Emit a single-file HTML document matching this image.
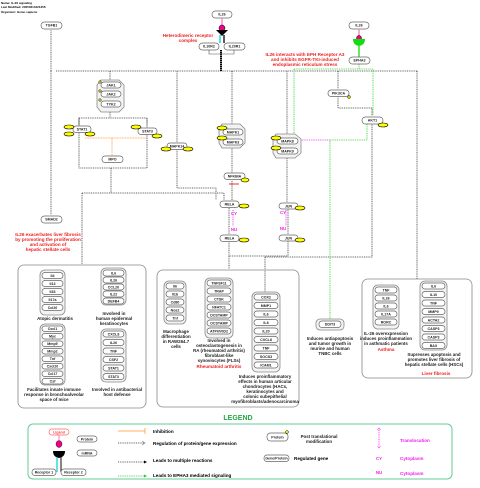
<!DOCTYPE html>
<html><head><meta charset="utf-8"><style>
body{margin:0;background:#fff}
svg{display:block;font-family:"Liberation Sans",sans-serif}
.n{fill:#fff;stroke:#666;stroke-width:.7}
.g{fill:#f3f3f3;stroke:#888;stroke-width:.8}
.t{font-size:3.6px;font-weight:bold;text-anchor:middle;fill:#222}
.d{fill:none;stroke:#333;stroke-width:.8;stroke-dasharray:1,.8}
.gr{fill:none;stroke:#2c2;stroke-width:.8;stroke-dasharray:1,.8}
.y{fill:#ff0;stroke:#000;stroke-width:.6}
.r{font-size:4.6px;font-weight:bold;fill:#e22;text-anchor:middle}
.k{font-size:4.4px;font-weight:bold;fill:#222;text-anchor:middle}
.m{font-size:4.4px;font-weight:bold;fill:#e2e;text-anchor:middle}
</style></head><body>
<svg width="480" height="488" viewBox="0 0 480 488" xmlns="http://www.w3.org/2000/svg">
<text x="1" y="4" style="font-size:3px;font-weight:bold">Name: IL-26 signaling</text>
<text x="1" y="8" style="font-size:3px;font-weight:bold">Last Modified: 20250213121356</text>
<text x="1" y="13" style="font-size:3px;font-weight:bold">Organism: Homo sapiens</text>

<!-- main dotted lines -->
<path class="d" d="M56 71H418 M51 71V30 M51 71V215 M110 71V80 M177 71V142 M232 71V124 M287 71V134 M338 71V89"/>
<path d="M221 50V71" stroke="#000" stroke-width="2" stroke-dasharray="1.5,.5"/>
<path class="d" d="M110 112V118 M79 118H147V168H79Z M79 118V125 M147 118V127 M111 168V193 M82 193H224V200 M82 193V264 M177 149V188H216V200 M232 147V173 M232 181V200 M229 208V234 M229 241V256H288 M288 208V234 M288 241V256 M265 257H372V124 M229 256V269 M265 257V292 M338 96V108H372V116 M417 71V279 M287 158V202"/>
<path d="M85 138H147 M112 138V156" stroke="#f93" stroke-width=".8" fill="none" stroke-dasharray="1,.6"/>
<path d="M229 184H239" stroke="#e33" stroke-width="1"/>
<path d="M107 156H117" stroke="#f93" stroke-width=".8"/>
<path class="gr" d="M359 64V69 M294 69H373V115 M294 69V136 M367 124V140H330V320"/>
<path d="M300 140H330" stroke="#e2e" stroke-width=".8" fill="none" stroke-dasharray="1,.8"/>
<path d="M233 210V226 M286 210V226" stroke="#e2e" stroke-width=".8" stroke-dasharray="1,.8"/>

<!-- receptor complex -->
<rect class="n" x="212" y="11" width="20" height="7" rx="3.5"/><text class="t" x="222" y="15.5">IL26</text>
<path d="M222 18V26" stroke="#f8c" stroke-width="1.5"/>
<circle cx="222" cy="28" r="3" fill="#e08" stroke="#000" stroke-width=".5"/>
<path d="M216 30H228L222 36Z" fill="#000"/>
<path d="M220 35V43" stroke="#0cd" stroke-width="1.3"/><path d="M224 35V43" stroke="#000" stroke-width="1.3"/>
<rect class="n" x="199" y="43" width="20" height="7" rx="3.5"/><text class="t" x="209" y="47.5">IL10R2</text>
<rect class="n" x="224" y="43" width="21" height="7" rx="3.5"/><text class="t" x="234.5" y="47.5">IL20R1</text>
<path d="M209 50V54H234V50" stroke="#555" stroke-width=".6" fill="none"/>
<text class="r" x="188" y="37">Heterodimeric receptor</text><text class="r" x="188" y="42">complex</text>

<rect class="n" x="349" y="22" width="20" height="7" rx="3.5"/><text class="t" x="359" y="26.5">IL26</text>
<path d="M359 29V36" stroke="#f8c" stroke-width="1.5"/>
<circle cx="359" cy="38" r="2.5" fill="#e08" stroke="#000" stroke-width=".5"/>
<path d="M353 39H365Q365 45 359 46Q353 45 353 39Z" fill="#1d1"/>
<path d="M359 46V57" stroke="#1d1" stroke-width="1.3"/>
<rect class="n" x="349" y="57" width="21" height="7" rx="3.5"/><text class="t" x="359.5" y="61.5">EPHA3</text>
<text class="r" x="305" y="56">IL26 interacts with EPH Receptor A3</text>
<text class="r" x="305" y="61">and inhibits EGFR-TKI-induced</text>
<text class="r" x="305" y="66">endoplasmic reticulum stress</text>

<rect class="n" x="41" y="22" width="21" height="7" rx="3.5"/><text class="t" x="51.5" y="26.5">TGFB1</text>
<rect class="n" x="41" y="216" width="21" height="7" rx="3.5"/><text class="t" x="51.5" y="220.5">SMAD2</text>
<text class="r" x="48" y="236">IL26 exacerbates liver fibrosis</text>
<text class="r" x="48" y="241">by promoting the proliferation</text>
<text class="r" x="48" y="246">and activation of</text>
<text class="r" x="48" y="251">hepatic stellate cells</text>

<!-- JAK -->
<path class="g" d="M101 80H119L124 85V107L119 112H101L97 107V85Z"/>
<rect class="n" x="101" y="82" width="20" height="6" rx="3"/><text class="t" x="111" y="86.3">JAK1</text>
<rect class="n" x="101" y="91" width="20" height="6" rx="3"/><text class="t" x="111" y="95.3">JAK2</text>
<rect class="n" x="101" y="101" width="20" height="6" rx="3"/><text class="t" x="111" y="105.3">TYK2</text>
<circle cx="100" cy="82" r="1.3" fill="#cc0" stroke="#000" stroke-width=".4"/><circle cx="100" cy="91" r="1.3" fill="#cc0" stroke="#000" stroke-width=".4"/><circle cx="100" cy="100" r="1.3" fill="#cc0" stroke="#000" stroke-width=".4"/>

<rect class="n" x="73" y="126" width="18" height="6.5" rx="3"/><text class="t" x="82" y="130.5">STAT1</text>
<ellipse class="y" cx="69" cy="127" rx="5" ry="2"/><ellipse class="y" cx="69" cy="134" rx="5" ry="2"/><ellipse class="y" cx="90" cy="134" rx="5" ry="2"/>
<rect class="n" x="138" y="128" width="19" height="6.5" rx="3"/><text class="t" x="147.5" y="132.5">STAT3</text>
<ellipse class="y" cx="136" cy="127" rx="5" ry="2"/><ellipse class="y" cx="157" cy="136" rx="5" ry="2"/>
<rect class="n" x="102" y="156" width="21" height="6.5" rx="3"/><text class="t" x="112.5" y="160.5">MPO</text>

<rect class="n" x="167" y="143" width="20" height="6.5" rx="3"/><text class="t" x="177" y="147.5">MAPK14</text>
<ellipse class="y" cx="166" cy="149" rx="5" ry="2"/><ellipse class="y" cx="188" cy="149" rx="5" ry="2"/>

<path class="g" d="M222 124H240L245 129V143L240 148H222L219 143V129Z"/>
<rect class="n" x="223" y="129" width="20" height="6" rx="3"/><text class="t" x="233" y="133.3">MAPK1</text>
<rect class="n" x="223" y="139" width="20" height="6" rx="3"/><text class="t" x="233" y="143.3">MAPK3</text>
<ellipse class="y" cx="222" cy="128" rx="5" ry="2"/><ellipse class="y" cx="222" cy="138" rx="5" ry="2"/>

<path class="g" d="M276 134H295L301 139V153L295 158H276L273 153V139Z"/>
<rect class="n" x="277" y="138" width="21" height="6" rx="3"/><text class="t" x="287.5" y="142.3">MAPK8</text>
<rect class="n" x="277" y="148" width="21" height="6" rx="3"/><text class="t" x="287.5" y="152.3">MAPK9</text>
<ellipse class="y" cx="276" cy="138" rx="5" ry="2"/><ellipse class="y" cx="276" cy="148" rx="5" ry="2"/>

<rect class="n" x="224" y="173" width="21" height="6.5" rx="3"/><text class="t" x="234.5" y="177.5">NFKBIA</text>
<ellipse class="y" cx="245" cy="180" rx="4" ry="2"/>

<rect class="n" x="220" y="201" width="19" height="6.5" rx="3"/><text class="t" x="229.5" y="205.5">RELA</text><ellipse class="y" cx="244" cy="206" rx="5" ry="2"/>
<text class="m" x="234" y="215">CY</text><text class="m" x="234" y="231">NU</text>
<rect class="n" x="220" y="235" width="19" height="6.5" rx="3"/><text class="t" x="229.5" y="239.5">RELA</text><ellipse class="y" cx="244" cy="240" rx="5" ry="2"/>
<rect class="n" x="279" y="203" width="19" height="6" rx="3"/><text class="t" x="288.5" y="207.3">JUN</text><ellipse class="y" cx="300" cy="208" rx="5" ry="2"/>
<text class="m" x="283" y="214">CY</text><text class="m" x="283" y="230">NU</text>
<rect class="n" x="279" y="235" width="19" height="6" rx="3"/><text class="t" x="288.5" y="239.3">JUN</text><ellipse class="y" cx="300" cy="240" rx="5" ry="2"/>

<rect class="n" x="328" y="90" width="21" height="6.5" rx="3"/><text class="t" x="338.5" y="94.5">PIK3CA</text>
<circle cx="349" cy="97" r="1.5" fill="#cc0" stroke="#000" stroke-width=".4"/>
<rect class="n" x="362" y="117" width="21" height="7" rx="3.5"/><text class="t" x="372.5" y="121.5">AKT1</text><ellipse class="y" cx="383" cy="125" rx="5" ry="2"/>

<rect class="g" x="316" y="319" width="28" height="11" rx="4"/>
<rect class="n" x="319" y="321" width="22" height="6.5" rx="3"/><text class="t" x="330" y="325.5">DDIT3</text>
<text class="k" x="330" y="340">Induces antiapoptosis</text><text class="k" x="330" y="345">and tumor growth in</text><text class="k" x="330" y="350">murine and human</text><text class="k" x="330" y="355">TNBC cells</text>

<!-- boxes -->
<rect x="18" y="265" width="128" height="143" rx="6" fill="none" stroke="#888" stroke-width=".8"/>
<rect x="157" y="270" width="142" height="137" rx="6" fill="none" stroke="#888" stroke-width=".8"/>
<rect x="362" y="279" width="110" height="99" rx="6" fill="none" stroke="#888" stroke-width=".8"/>

<g id="grp">
<rect class="g" x="40" y="270" width="25" height="45" rx="5"/>
<rect class="g" x="101" y="268" width="25" height="37" rx="5"/>
<rect class="g" x="40" y="324" width="25" height="61" rx="5"/>
<rect class="g" x="101" y="329" width="25" height="53" rx="5"/>
<rect class="g" x="164" y="281" width="22" height="43" rx="5"/>
<rect class="g" x="205" y="278" width="28" height="60" rx="5"/>
<rect class="g" x="252" y="292" width="28" height="80" rx="5"/>
<rect class="g" x="373" y="285" width="26" height="44" rx="5"/>
<rect class="g" x="420" y="281" width="27" height="69" rx="5"/>
</g>
<g>
<rect class="n" x="42" y="272.5" width="21" height="6" rx="3"/><text class="t" x="52.5" y="276.8">Il4</text>
<rect class="n" x="42" y="280.5" width="21" height="6" rx="3"/><text class="t" x="52.5" y="284.8">Il13</text>
<rect class="n" x="42" y="288.5" width="21" height="6" rx="3"/><text class="t" x="52.5" y="292.8">Il33</text>
<rect class="n" x="42" y="296.5" width="21" height="6" rx="3"/><text class="t" x="52.5" y="300.8">Il17a</text>
<rect class="n" x="42" y="304.5" width="21" height="6" rx="3"/><text class="t" x="52.5" y="308.8">Ccl26</text>

<rect class="n" x="103" y="270" width="21" height="6" rx="3"/><text class="t" x="113.5" y="274.3">IL6</text>
<rect class="n" x="103" y="277" width="21" height="6" rx="3"/><text class="t" x="113.5" y="281.3">IL26</text>
<rect class="n" x="103" y="284" width="21" height="6" rx="3"/><text class="t" x="113.5" y="288.3">CCL20</text>
<rect class="n" x="103" y="291" width="21" height="6" rx="3"/><text class="t" x="113.5" y="295.3">IL22</text>
<rect class="n" x="103" y="298" width="21" height="6" rx="3"/><text class="t" x="113.5" y="302.3">DEFB4</text>

<rect class="n" x="42" y="326" width="21" height="5.5" rx="2.7"/><text class="t" x="52.5" y="330">Cxcl1</text>
<rect class="n" x="42" y="333.5" width="21" height="5.5" rx="2.7"/><text class="t" x="52.5" y="337.5">Myc</text>
<rect class="n" x="42" y="341" width="21" height="5.5" rx="2.7"/><text class="t" x="52.5" y="345">Mmp9</text>
<rect class="n" x="42" y="348.5" width="21" height="5.5" rx="2.7"/><text class="t" x="52.5" y="352.5">Mmp2</text>
<rect class="n" x="42" y="356" width="21" height="5.5" rx="2.7"/><text class="t" x="52.5" y="360">Tnf</text>
<rect class="n" x="42" y="363.5" width="21" height="5.5" rx="2.7"/><text class="t" x="52.5" y="367.5">Cxcl20</text>
<rect class="n" x="42" y="371" width="21" height="5.5" rx="2.7"/><text class="t" x="52.5" y="375">Ccl17</text>
<rect class="n" x="42" y="378.5" width="21" height="5.5" rx="2.7"/><text class="t" x="52.5" y="382.5">Csf</text>

<rect class="n" x="103" y="331" width="21" height="6" rx="3"/><text class="t" x="113.5" y="335.3">CXCL8</text>
<rect class="n" x="103" y="339.5" width="21" height="6" rx="3"/><text class="t" x="113.5" y="343.8">IL26</text>
<rect class="n" x="103" y="348" width="21" height="6" rx="3"/><text class="t" x="113.5" y="352.3">TNF</text>
<rect class="n" x="103" y="356.5" width="21" height="6" rx="3"/><text class="t" x="113.5" y="360.8">CSF2</text>
<rect class="n" x="103" y="365" width="21" height="6" rx="3"/><text class="t" x="113.5" y="369.3">STAT1</text>
<rect class="n" x="103" y="373.5" width="21" height="6" rx="3"/><text class="t" x="113.5" y="377.8">STAT3</text>

<rect class="n" x="166" y="283" width="18" height="6" rx="3"/><text class="t" x="175" y="287.3">Il6</text>
<rect class="n" x="166" y="291" width="18" height="6" rx="3"/><text class="t" x="175" y="295.3">Il1b</text>
<rect class="n" x="166" y="299" width="18" height="6" rx="3"/><text class="t" x="175" y="303.3">Cd80</text>
<rect class="n" x="166" y="307" width="18" height="6" rx="3"/><text class="t" x="175" y="311.3">Nos2</text>
<rect class="n" x="166" y="315" width="18" height="6" rx="3"/><text class="t" x="175" y="319.3">Tnf</text>

<rect class="n" x="207" y="280" width="24" height="6" rx="3"/><text class="t" x="219" y="284.3">TNFSF11</text>
<rect class="n" x="207" y="288" width="24" height="6" rx="3"/><text class="t" x="219" y="292.3">TRAP</text>
<rect class="n" x="207" y="296" width="24" height="6" rx="3"/><text class="t" x="219" y="300.3">CTSK</text>
<rect class="n" x="207" y="304" width="24" height="6" rx="3"/><text class="t" x="219" y="308.3">NFATC1</text>
<rect class="n" x="207" y="312" width="24" height="6" rx="3"/><text class="t" x="219" y="316.3">DCSTAMP</text>
<rect class="n" x="207" y="320" width="24" height="6" rx="3"/><text class="t" x="219" y="324.3">OCSTAMP</text>
<rect class="n" x="207" y="328" width="24" height="6" rx="3"/><text class="t" x="219" y="332.3">ATP6V0D2</text>

<rect class="n" x="254" y="294" width="24" height="6" rx="3"/><text class="t" x="266" y="298.3">COX2</text>
<rect class="n" x="254" y="302.5" width="24" height="6" rx="3"/><text class="t" x="266" y="306.8">MMP1</text>
<rect class="n" x="254" y="311" width="24" height="6" rx="3"/><text class="t" x="266" y="315.3">IL6</text>
<rect class="n" x="254" y="319.5" width="24" height="6" rx="3"/><text class="t" x="266" y="323.8">IL8</text>
<rect class="n" x="254" y="328" width="24" height="6" rx="3"/><text class="t" x="266" y="332.3">IL20</text>
<rect class="n" x="254" y="336.5" width="24" height="6" rx="3"/><text class="t" x="266" y="340.8">CXCL8</text>
<rect class="n" x="254" y="345" width="24" height="6" rx="3"/><text class="t" x="266" y="349.3">TNF</text>
<rect class="n" x="254" y="353.5" width="24" height="6" rx="3"/><text class="t" x="266" y="357.8">SOCS3</text>
<rect class="n" x="254" y="362" width="24" height="6" rx="3"/><text class="t" x="266" y="366.3">ICAM1</text>

<rect class="n" x="375" y="287" width="22" height="6" rx="3"/><text class="t" x="386" y="291.3">TNF</text>
<rect class="n" x="375" y="295" width="22" height="6" rx="3"/><text class="t" x="386" y="299.3">IL26</text>
<rect class="n" x="375" y="303" width="22" height="6" rx="3"/><text class="t" x="386" y="307.3">IL6</text>
<rect class="n" x="375" y="311" width="22" height="6" rx="3"/><text class="t" x="386" y="315.3">IL17A</text>
<rect class="n" x="375" y="319" width="22" height="6" rx="3"/><text class="t" x="386" y="323.3">RORC</text>

<rect class="n" x="422" y="283" width="23" height="6" rx="3"/><text class="t" x="433.5" y="287.3">IL6</text>
<rect class="n" x="422" y="291.5" width="23" height="6" rx="3"/><text class="t" x="433.5" y="295.8">IL10</text>
<rect class="n" x="422" y="300" width="23" height="6" rx="3"/><text class="t" x="433.5" y="304.3">TNF</text>
<rect class="n" x="422" y="308.5" width="23" height="6" rx="3"/><text class="t" x="433.5" y="312.8">MMP9</text>
<rect class="n" x="422" y="317" width="23" height="6" rx="3"/><text class="t" x="433.5" y="321.3">ACTA2</text>
<rect class="n" x="422" y="325.5" width="23" height="6" rx="3"/><text class="t" x="433.5" y="329.8">CASP3</text>
<rect class="n" x="422" y="334" width="23" height="6" rx="3"/><text class="t" x="433.5" y="338.3">CASP3</text>
<rect class="n" x="422" y="342.5" width="23" height="6" rx="3"/><text class="t" x="433.5" y="346.8">BAX</text>
</g>

<text class="k" x="55" y="320">Atopic dermatitis</text>
<text class="k" x="114" y="315">Involved in</text><text class="k" x="114" y="320">human epidermal</text><text class="k" x="114" y="325">keratinocytes</text>
<text class="k" x="54" y="391">Facilitates innate immune</text><text class="k" x="54" y="396">response in bronchoalveolar</text><text class="k" x="54" y="401">space of mice</text>
<text class="k" x="117" y="391">Involved in antibacterial</text><text class="k" x="117" y="396">host defense</text>
<text class="k" x="176" y="333">Macrophage</text><text class="k" x="176" y="338">differentiation</text><text class="k" x="176" y="343">in RAW264.7</text><text class="k" x="176" y="348">cells</text>
<text class="k" x="219" y="342">Involved in</text><text class="k" x="219" y="347">osteoclastogenesis in</text><text class="k" x="219" y="352">RA (rheumatoid arthritis)</text><text class="k" x="219" y="357">fibroblast-like</text><text class="k" x="219" y="362">synoviocytes (FLSs)</text>
<text class="r" x="219" y="368">Rheumatoid arthritis</text>
<text class="k" x="265" y="378">Induces proinflammatory</text><text class="k" x="265" y="383">effects in human articular</text><text class="k" x="265" y="388">chondrocytes (HACs,</text><text class="k" x="265" y="393">keratinocytes and</text><text class="k" x="265" y="398">colonic subepithelial</text><text class="k" x="265" y="403">myofibroblasts/adenocarcinoma</text>
<text class="k" x="386" y="335">IL-26 overexpression</text><text class="k" x="386" y="340">induces proinflammation</text><text class="k" x="386" y="345">in asthmatic patients</text>
<text class="r" x="386" y="351">Asthma</text>
<text class="k" x="434" y="356">Supresses apoptosis and</text><text class="k" x="434" y="361">promotes liver fibrosis of</text><text class="k" x="434" y="366">hepatic stellate cells (HSCs)</text>
<text class="r" x="436" y="375">Liver fibrosis</text>

<!-- legend -->
<text x="238" y="420" style="font-size:7px;font-weight:bold;fill:#2a4;text-anchor:middle">LEGEND</text>
<rect x="28" y="424" width="424" height="55" rx="5" fill="none" stroke="#6c9" stroke-width="1"/>
<rect x="49" y="429" width="20" height="6" rx="3" fill="#fff" stroke="#f66" stroke-width=".7"/><text class="t" x="59" y="433.3" style="fill:#e44">Ligand</text>
<path d="M59 435V440" stroke="#f8c" stroke-width="1.2"/>
<ellipse cx="59" cy="444" rx="3" ry="3.5" fill="#e08" stroke="#000" stroke-width=".4"/>
<path d="M53 451H65Q65 457 59 458Q53 457 53 451Z" fill="#000"/>
<path d="M57 457V472" stroke="#0cd" stroke-width="1.2"/><path d="M61 457V472" stroke="#333" stroke-width="1.2"/>
<rect class="n" x="32" y="469" width="24" height="6.5" rx="3"/><text class="t" x="44" y="473.5">Receptor 1</text>
<rect class="n" x="61" y="469" width="25" height="6.5" rx="3"/><text class="t" x="73.5" y="473.5">Receptor 2</text>
<rect class="n" x="77" y="436" width="20" height="6" rx="3"/><text class="t" x="87" y="440.3">Protein</text>
<rect class="n" x="77" y="450" width="20" height="6" rx="3"/><text class="t" x="87" y="454.3">mRNA</text>
<path d="M118 431H145" stroke="#f93" stroke-width=".8"/><path d="M145 428V434" stroke="#f93" stroke-width=".8"/>
<path d="M118 443H144" class="d" stroke="#777"/><path d="M142 441L145 443L142 445" fill="none" stroke="#777" stroke-width=".6"/>
<path d="M118 462H144" class="d"/><path d="M144 460.5L147 462L144 463.5Z" fill="#000"/>
<path d="M118 476H144" class="gr"/><path d="M144 474.5L147 476L144 477.5Z" fill="#2c2"/>
<text x="153" y="433" style="font-size:4.6px;font-weight:bold">Inhibition</text>
<text x="153" y="445" style="font-size:4.6px;font-weight:bold">Regulation of protein/gene expression</text>
<text x="153" y="462" style="font-size:4.6px;font-weight:bold">Leads to multiple reactions</text>
<text x="153" y="477" style="font-size:4.6px;font-weight:bold">Leads to EPHA3 mediated signaling</text>
<rect class="n" x="267" y="433" width="21" height="8" rx="3.5"/><text class="t" x="277.5" y="438.3">Protein</text>
<circle cx="287" cy="432" r="1.4" fill="#ff0" stroke="#000" stroke-width=".5"/>
<text class="k" x="319" y="438">Post translational</text><text class="k" x="319" y="443">modification</text>
<rect class="n" x="264" y="455" width="25" height="6.5" rx="3"/><text class="t" x="276.5" y="459.5">Gene/Protein</text>
<text x="294" y="460" style="font-size:4.6px;font-weight:bold">Regulated gene</text>
<path d="M379 430V446" stroke="#e2e" stroke-width=".8" stroke-dasharray="1,.8"/>
<path d="M377.5 430L379 428L380.5 430 M377.5 446L379 448L380.5 446" stroke="#e2e" stroke-width=".6" fill="none"/>
<text class="m" x="379" y="460">CY</text><text class="m" x="379" y="474">NU</text>
<text x="400" y="442" style="font-size:4.6px;font-weight:bold;fill:#e2e">Translocation</text>
<text x="400" y="460" style="font-size:4.6px;font-weight:bold;fill:#e2e">Cytoplasm</text>
<text x="400" y="475" style="font-size:4.6px;font-weight:bold;fill:#e2e">Cytoplasm</text>
</svg>
</body></html>
